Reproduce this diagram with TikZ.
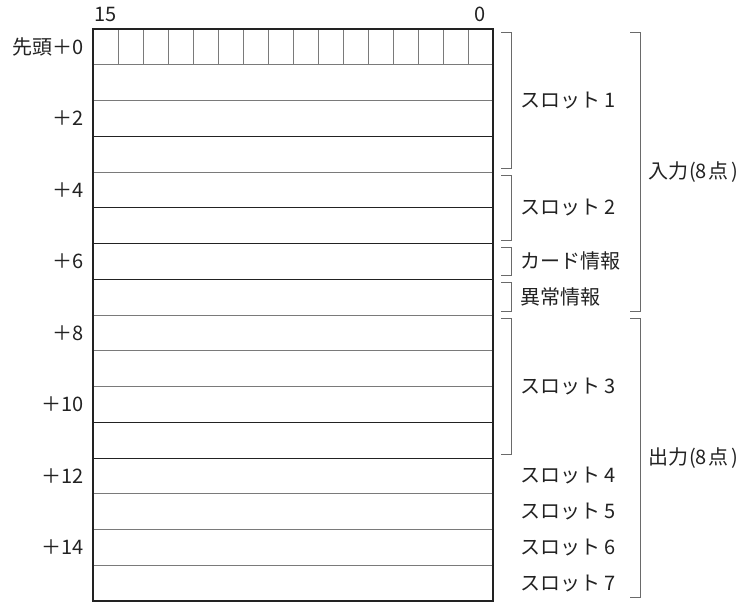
\documentclass[tikz,border=0pt]{standalone}
\usepackage{fontspec}
\setmainfont{Noto Sans CJK JP}
\definecolor{txtcol}{HTML}{222222}
\definecolor{thincol}{HTML}{7A7A7A}
\definecolor{brcol}{HTML}{6A6A6A}
\tikzset{
  word/.style={draw=thincol,line width=.9pt},
  wordsep/.style={draw=txtcol,line width=.9pt},
  brk/.style={draw=brcol,line width=1pt},
  lbl/.style={inner sep=0pt,text=txtcol,font=\fontsize{20}{24}\selectfont},
}
\begin{document}
\begin{tikzpicture}[x=1pt,y=-1pt]
\useasboundingbox (0,0) rectangle (754,603);

        % rows (16 words, 35.75 high)
        \foreach \k in {1,2,4,8,9,10,13,14,15}
          \draw [word] (93,29+35.75*\k) -- (493,29+35.75*\k);
        \foreach \k in {3,5,6,7,11,12}
          \draw [wordsep] (93,29+35.75*\k) -- (493,29+35.75*\k);

        % bit cells of the first word
        \foreach \b in {1,...,15}
          \draw [word] (93+25*\b,29) -- (93+25*\b,64.75);

        % outer frame
        \draw [txtcol,line width=2pt] (93,29) rectangle (493,601);

        % bit numbers
        \node [lbl] (b15) at (105.5,14.5) {15};
        \node [lbl] (b0) at (480.5,14.5) {0};

        % offsets
        \node [lbl,anchor=east] (off0) at (84,47) {先頭＋0};
        \foreach \k/\t in {1/＋2,2/＋4,3/＋6,4/＋8,5/＋10,6/＋12,7/＋14}
          \node [lbl,anchor=east] (off\k) at (84,29+71.5*\k+17.9) {\t};

        % small brackets
        \draw [brk] (501,32.5) -- (511,32.5) -- (511,168.5) -- (501,168.5); % slot 1
        \draw [brk] (501,175.5) -- (511,175.5) -- (511,240) -- (501,240); % slot 2
        \draw [brk] (501,247) -- (511,247) -- (511,275.8) -- (501,275.8); % card
        \draw [brk] (501,282.8) -- (511,282.8) -- (511,311.5) -- (501,311.5); % error
        \draw [brk] (501,318.5) -- (511,318.5) -- (511,454.5) -- (501,454.5); % slot 3

        % big brackets
        \draw [brk] (630,32.5) -- (640,32.5) -- (640,311.5) -- (630,311.5); % input
        \draw [brk] (630,318.5) -- (640,318.5) -- (640,597.5) -- (630,597.5); % output

        % slot labels
        \node [lbl,anchor=west] (slot1) at (520,100.5) {スロット 1};
        \node [lbl,anchor=west] (slot2) at (520,207.8) {スロット 2};
        \node [lbl,anchor=west] (card) at (520,261.4) {カード情報};
        \node [lbl,anchor=west] (err) at (520,297.1) {異常情報};
        \node [lbl,anchor=west] (slot3) at (520,386.5) {スロット 3};
        \node [lbl,anchor=west] (slot4) at (520,475.9) {スロット 4};
        \node [lbl,anchor=west] (slot5) at (520,511.6) {スロット 5};
        \node [lbl,anchor=west] (slot6) at (520,547.4) {スロット 6};
        \node [lbl,anchor=west] (slot7) at (520,583.1) {スロット 7};

        % input / output
        \node [lbl,anchor=west] (inp) at (648,172) {入力\kern1pt(8\kern1pt点\kern3pt)};
        \node [lbl,anchor=west] (outp) at (648,458) {出力\kern1pt(8\kern1pt点\kern3pt)};

\end{tikzpicture}
\end{document}
